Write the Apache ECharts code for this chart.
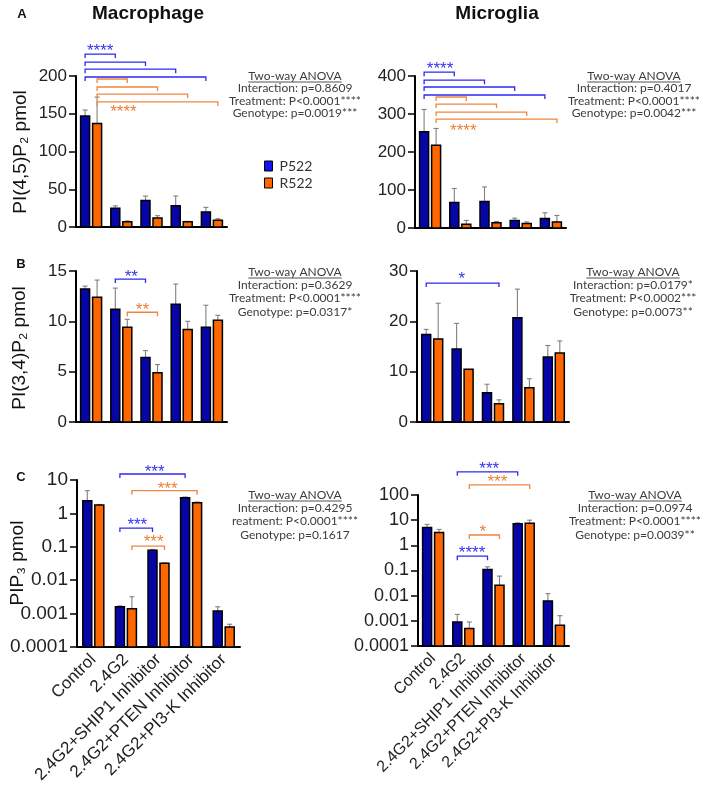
<!DOCTYPE html>
<html><head><meta charset="utf-8">
<script src="https://cdn.jsdelivr.net/npm/echarts@6/dist/echarts.min.js"></script>
<style>html,body{margin:0;padding:0;background:#fff}#c{width:709px;height:799px}</style>
</head><body><div id="c"></div>
<script>
// ---------------- DATA ----------------
const categories = ['Control', '2.4G2', '2.4G2+SHIP1 Inhibitor', '2.4G2+PTEN Inhibitor', '2.4G2+PI3-K Inhibitor'];
const seriesNames = ['P522', 'R522'];

// A: PI(4,5)P2 pmol
const macPI45_P522 = [147, 25, 35, 28, 20];
const macPI45_P522_sd = [8, 3, 6, 13, 6];
const macPI45_R522 = [137, 7, 12, 7, 9];
const macPI45_R522_sd = [35, 1, 3, 0.5, 2];
const micPI45_P522 = [253, 67, 70, 20, 25];
const micPI45_P522_sd = [59, 37, 38, 6, 15];
const micPI45_R522 = [218, 10, 14, 12, 16];
const micPI45_R522_sd = [44, 10, 3, 4, 17];

// B: PI(3,4)P2 pmol
const macPI34_P522 = [13.2, 11.2, 6.4, 11.7, 9.4];
const macPI34_P522_sd = [0.3, 2.1, 0.7, 2.0, 2.2];
const macPI34_R522 = [12.4, 9.4, 4.9, 9.2, 10.1];
const macPI34_R522_sd = [1.7, 0.8, 0.8, 0.8, 0.5];
const micPI34_P522 = [17.4, 14.5, 5.8, 20.7, 12.9];
const micPI34_P522_sd = [1.0, 5.1, 1.7, 5.7, 2.3];
const micPI34_R522 = [16.5, 10.5, 3.65, 6.8, 13.7];
const micPI34_R522_sd = [7.1, 0, 0.75, 1.8, 2.4];

// C: PIP3 pmol (log axis)
const macPIP3_P522 = [2.4, 0.0016, 0.079, 2.95, 0.0012];
const macPIP3_P522_sd = [2.4, 0.0001, 0.004, 0.15, 0.0004];
const macPIP3_R522 = [1.78, 0.0014, 0.032, 2.1, 0.0004];
const macPIP3_R522_sd = [0.07, 0.0018, 0.001, 0.1, 0.00008];
const micPIP3_P522 = [5.1, 0.0009, 0.11, 7.2, 0.0062];
const micPIP3_P522_sd = [1.7, 0.0009, 0.03, 0.6, 0.0058];
const micPIP3_R522 = [3.2, 0.0005, 0.026, 7.6, 0.00066];
const micPIP3_R522_sd = [1.1, 0.0004, 0.034, 2.4, 0.00094];

// significance brackets: [fromCategory, fromBar(-1 P522 / 1 R522), toCategory, toBar, level (data units), colour (0 blue / 1 orange)]
const macPI45_brackets = [[0,-1,1,-1,229,0],[0,-1,2,-1,218.5,0],[0,-1,3,-1,209,0],[0,-1,4,-1,198.7,0],
                          [0,1,1,1,196,1],[0,1,2,1,185.4,1],[0,1,3,1,176,1],[0,1,4,1,165.6,1]];
const micPI45_brackets = [[0,-1,1,-1,410,0],[0,-1,2,-1,389,0],[0,-1,3,-1,371,0],[0,-1,4,-1,350,0],
                          [0,1,1,1,344.7,1],[0,1,2,1,326,1],[0,1,3,1,305,1],[0,1,4,1,286.6,1]];
const macPI34_brackets = [[1,-1,2,-1,14.2,0],[1,1,2,1,10.9,1]];
const micPI34_brackets = [[0,-1,2,1,27.6,0]];
const macPIP3_brackets = [[1,-1,3,-1,15.1,0],[1,1,3,1,4.8,1],[1,-1,2,-1,0.363,0],[1,1,2,1,0.105,1]];
const micPIP3_brackets = [[1,-1,3,-1,830,0],[1,1,3,1,251,1],[1,1,2,1,2.57,1],[1,-1,2,-1,0.37,0]];

// significance stars: [category position, level (data units), colour] + texts
const macPI45_stars = [[0.3, 238, 0], [1.07, 157.6, 1]];
const macPI45_starText = ['****', '****'];
const micPI45_stars = [[0.33, 429, 0], [1.1, 265.5, 1]];
const micPI45_starText = ['****', '****'];
const macPI34_stars = [[1.33, 14.8, 0], [1.7, 11.5, 1]];
const macPI34_starText = ['**', '**'];
const micPI34_stars = [[0.97, 29.2, 0]];
const micPI34_starText = ['*'];
const macPIP3_stars = [[1.88, 22.9, 0], [2.28, 7.1, 1], [1.35, 0.59, 0], [1.85, 0.18, 1]];
const macPIP3_starText = ['***', '***', '***', '***'];
const micPIP3_stars = [[1.86, 1580, 0], [2.13, 478, 1], [1.65, 4.9, 1], [1.29, 0.71, 0]];
const micPIP3_starText = ['***', '***', '*', '****'];

// axis ticks
const yTicksA_mac = {min: 0, max: 200, interval: 50};
const yTicksA_mic = {min: 0, max: 400, interval: 100};
const yTicksB_mac = {min: 0, max: 15, interval: 5};
const yTicksB_mic = {min: 0, max: 30, interval: 10};
const yTicksC_mac = {min: 0.0001, max: 10};
const yTicksC_mic = {min: 0.0001, max: 100};
const logTickLabels = ['0.0001', '0.001', '0.01', '0.1', '1', '10', '100'];

// ANOVA texts
const anovaA_mac = ['Two-way ANOVA', 'Interaction: p=0.8609', 'Treatment: P<0.0001****', 'Genotype: p=0.0019***'];
const anovaA_mic = ['Two-way ANOVA', 'Interaction: p=0.4017', 'Treatment: P<0.0001****', 'Genotype: p=0.0042***'];
const anovaB_mac = ['Two-way ANOVA', 'Interaction: p=0.3629', 'Treatment: P<0.0001****', 'Genotype: p=0.0317*'];
const anovaB_mic = ['Two-way ANOVA', 'Interaction: p=0.0179*', 'Treatment: P<0.0002***', 'Genotype: p=0.0073**'];
const anovaC_mac = ['Two-way ANOVA', 'Interaction: p=0.4295', 'reatment: P<0.0001****', 'Genotype: p=0.1617'];
const anovaC_mic = ['Two-way ANOVA', 'Interaction: p=0.0974', 'Treatment: P<0.0001****', 'Genotype: p=0.0039**'];

// ---------------- STYLE / LAYOUT ----------------
const BLUE = '#0606a8', ORANGE = '#ff6600';
const BR_COL = ['#2a2af5', '#ee8640'];
const STAR_COL = ['#3535ee', '#ec7f35'];
const FONT = '"Liberation Sans", Arial, sans-serif';
const BAR_W = 9, OFF = 6;

const panels = [
  {grid: {left: 76, top: 76, width: 151, height: 151}, y: yTicksA_mac, log: false, yfs: 17,
   P: macPI45_P522, Psd: macPI45_P522_sd, R: macPI45_R522, Rsd: macPI45_R522_sd,
   br: macPI45_brackets, st: macPI45_stars, stT: macPI45_starText, xl: false},
  {grid: {left: 415, top: 76, width: 151, height: 152}, y: yTicksA_mic, log: false, yfs: 17,
   P: micPI45_P522, Psd: micPI45_P522_sd, R: micPI45_R522, Rsd: micPI45_R522_sd,
   br: micPI45_brackets, st: micPI45_stars, stT: micPI45_starText, xl: false},
  {grid: {left: 76, top: 271, width: 151, height: 151}, y: yTicksB_mac, log: false, yfs: 17,
   P: macPI34_P522, Psd: macPI34_P522_sd, R: macPI34_R522, Rsd: macPI34_R522_sd,
   br: macPI34_brackets, st: macPI34_stars, stT: macPI34_starText, xl: false},
  {grid: {left: 417, top: 271, width: 152, height: 151}, y: yTicksB_mic, log: false, yfs: 17,
   P: micPI34_P522, Psd: micPI34_P522_sd, R: micPI34_R522, Rsd: micPI34_R522_sd,
   br: micPI34_brackets, st: micPI34_stars, stT: micPI34_starText, xl: false},
  {grid: {left: 77, top: 480, width: 163, height: 167}, y: yTicksC_mac, log: true, yfs: 19,
   P: macPIP3_P522, Psd: macPIP3_P522_sd, R: macPIP3_R522, Rsd: macPIP3_R522_sd,
   br: macPIP3_brackets, st: macPIP3_stars, stT: macPIP3_starText, xl: true, xfs: 17},
  {grid: {left: 418, top: 495, width: 151, height: 151}, y: yTicksC_mic, log: true, yfs: 18,
   P: micPIP3_P522, Psd: micPIP3_P522_sd, R: micPIP3_R522, Rsd: micPIP3_R522_sd,
   br: micPIP3_brackets, st: micPIP3_stars, stT: micPIP3_starText, xl: true, xfs: 16}
];

function barRenderer(sign, color, base) {
  return function (params, api) {
    const c = api.value(0), v = api.value(1), sd = api.value(2);
    const p = api.coord([c, v]);
    const x = p[0] + sign * OFF;
    const yb = api.coord([c, base])[1];
    const ye = api.coord([c, v + sd])[1];
    const children = [];
    if (sd > 0) {
      children.push({type: 'line', shape: {x1: x, y1: p[1], x2: x, y2: ye}, style: {stroke: '#808080', lineWidth: 1.1}});
      children.push({type: 'line', shape: {x1: x - 2.5, y1: ye, x2: x + 2.5, y2: ye}, style: {stroke: '#808080', lineWidth: 1.1}});
    }
    children.push({type: 'rect', shape: {x: x - BAR_W / 2, y: p[1], width: BAR_W, height: yb - p[1]},
                   style: {fill: color, stroke: '#000', lineWidth: 1.5}});
    return {type: 'group', children};
  };
}

function bracketRenderer(params, api) {
  const fc = api.value(0), fs = api.value(1), tc = api.value(2), ts = api.value(3), lv = api.value(4), ci = api.value(5);
  const p1 = api.coord([fc, lv]), p2 = api.coord([tc, lv]);
  const x1 = p1[0] + fs * OFF, x2 = p2[0] + ts * OFF, y = p1[1];
  return {type: 'polyline', shape: {points: [[x1, y + 4], [x1, y], [x2, y], [x2, y + 4]]},
          style: {stroke: BR_COL[ci], lineWidth: 1.3, fill: null}};
}

function starRenderer(texts) {
  return function (params, api) {
    const c = api.value(0), lv = api.value(1), ci = api.value(2);
    const b = Math.floor(c);
    const p = api.coord([b, lv]);
    const band = api.size([1, 0])[0];
    return {type: 'text', x: p[0] + (c - b) * band, y: p[1] + 4,
            style: {text: texts[params.dataIndex], fill: STAR_COL[ci], font: '17px ' + FONT, align: 'center', verticalAlign: 'middle'}};
  };
}

const grids = [], xAxes = [], yAxes = [], series = [];
panels.forEach((pn, i) => {
  grids.push(Object.assign({containLabel: false}, pn.grid));
  xAxes.push({type: 'category', gridIndex: i, data: categories,
    axisLine: {lineStyle: {color: '#000', width: 2}},
    axisTick: {alignWithLabel: true, length: 7, lineStyle: {color: '#000', width: 1.5}},
    axisLabel: {show: pn.xl, rotate: 45, interval: 0, fontSize: pn.xfs || 15, color: '#222', fontFamily: FONT, margin: 10},
    splitLine: {show: false}});
  const ya = {gridIndex: i, min: pn.y.min, max: pn.y.max,
    axisLine: {show: true, lineStyle: {color: '#000', width: 2}},
    axisTick: {show: true, length: 7, lineStyle: {color: '#000', width: 1.5}},
    axisLabel: {fontSize: pn.yfs, color: '#222', fontFamily: FONT, margin: 9},
    splitLine: {show: false}};
  if (pn.log) {
    ya.type = 'log'; ya.logBase = 10;
    ya.splitNumber = Math.round(Math.log10(pn.y.max / pn.y.min));
    ya.axisLabel.formatter = v => logTickLabels[Math.round(Math.log10(v)) + 4];
  } else {
    ya.type = 'value'; ya.interval = pn.y.interval;
  }
  yAxes.push(ya);
  const base = pn.log ? pn.y.min : 0;
  series.push({type: 'custom', name: seriesNames[0], xAxisIndex: i, yAxisIndex: i, itemStyle: {color: BLUE},
    data: pn.P.map((v, k) => [k, v, pn.Psd[k]]), encode: {x: 0, y: 1}, renderItem: barRenderer(-1, BLUE, base)});
  series.push({type: 'custom', name: seriesNames[1], xAxisIndex: i, yAxisIndex: i, itemStyle: {color: ORANGE},
    data: pn.R.map((v, k) => [k, v, pn.Rsd[k]]), encode: {x: 0, y: 1}, renderItem: barRenderer(1, ORANGE, base)});
  series.push({type: 'custom', name: 'brackets' + i, xAxisIndex: i, yAxisIndex: i, clip: false, silent: true,
    data: pn.br, encode: {x: 0, y: 4}, renderItem: bracketRenderer});
  series.push({type: 'custom', name: 'stars' + i, xAxisIndex: i, yAxisIndex: i, clip: false, silent: true,
    data: pn.st, encode: {x: 0, y: 1}, renderItem: starRenderer(pn.stT)});
});

// text graphics
const ANOVA_FONT = 'Lato, "Open Sans", sans-serif';
const mctx = document.createElement('canvas').getContext('2d');
mctx.font = '12px ' + ANOVA_FONT;
const graphics = [];
function addAnova(lines, cx, y0, dy) {
  lines.forEach((t, k) => {
    graphics.push({type: 'text', x: cx, y: y0 + k * dy,
      style: {text: t, font: '12px ' + ANOVA_FONT, fill: '#3c3c3c', align: 'center', verticalAlign: 'middle'}});
  });
  const w = mctx.measureText(lines[0]).width;
  graphics.push({type: 'line', shape: {x1: cx - w / 2, y1: y0 + 6, x2: cx + w / 2, y2: y0 + 6}, style: {stroke: '#3c3c3c', lineWidth: 0.9}});
}
addAnova(anovaA_mac, 295, 76, 12.4);
addAnova(anovaA_mic, 634, 76, 12.4);
addAnova(anovaB_mac, 295, 272, 13.3);
addAnova(anovaB_mic, 633, 272, 13.3);
addAnova(anovaC_mac, 295, 495, 13.3);
addAnova(anovaC_mic, 635, 495, 13.3);

function txt(t, x, y, font, extra) {
  graphics.push(Object.assign({type: 'text', x, y, style: {text: t, font, fill: '#111', align: 'center', verticalAlign: 'middle'}}, extra || {}));
}
txt('Macrophage', 148, 14, 'bold 19px ' + FONT);
txt('Microglia', 497, 14, 'bold 19px ' + FONT);
txt('A', 22, 14, 'bold 13px ' + FONT);
txt('B', 21, 264, 'bold 13px ' + FONT);
txt('C', 21, 477, 'bold 13px ' + FONT);
txt('PI(4,5)P\u2082 pmol', 21, 152, '19px ' + FONT, {rotation: Math.PI / 2});
txt('PI(3,4)P\u2082 pmol', 20, 348, '19px ' + FONT, {rotation: Math.PI / 2});
txt('PIP\u2083 pmol', 18, 563, '19px ' + FONT, {rotation: Math.PI / 2});

const chart = echarts.init(document.getElementById('c'), null, {renderer: 'canvas'});
chart.setOption({
  animation: false,
  backgroundColor: '#fff',
  grid: grids, xAxis: xAxes, yAxis: yAxes, series,
  legend: {data: [{name: 'P522', itemStyle: {color: '#1212f0'}}, {name: 'R522', itemStyle: {color: ORANGE}}],
    left: 264, top: 159, orient: 'vertical', padding: 0, icon: 'rect', itemWidth: 8, itemHeight: 10, itemGap: 3,
    selectedMode: false, itemStyle: {borderColor: '#000', borderWidth: 1},
    textStyle: {fontSize: 14, fontFamily: ANOVA_FONT, color: '#333', padding: [0, 0, 0, 2]}},
  graphic: graphics
});
</script></body></html>
